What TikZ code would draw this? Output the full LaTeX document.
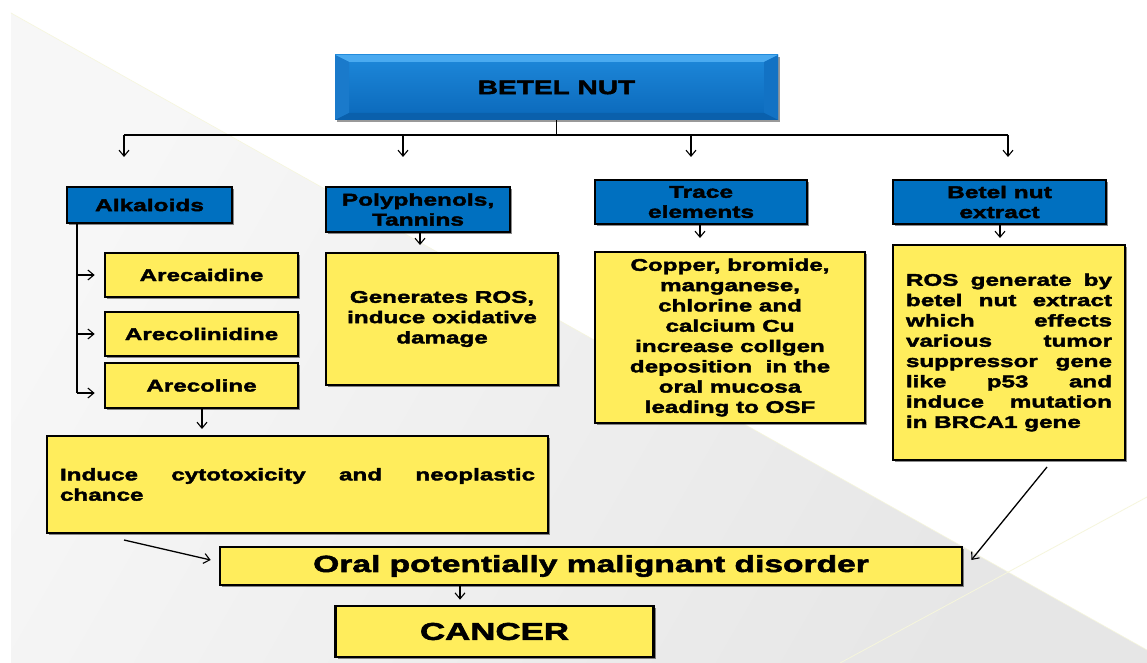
\documentclass[tikz,border=0pt]{standalone}
\usepackage{fontspec}
\newfontfamily\hv{Liberation Sans}[FakeStretch=1.44,FakeBold=2.4]
\usetikzlibrary{arrows.meta,shadows}
\definecolor{ybox}{RGB}{255,237,92}
\definecolor{bbox}{RGB}{0,112,192}
\definecolor{bgray}{RGB}{230,230,230}
\definecolor{bgray2}{RGB}{247,247,247}
\definecolor{faint}{RGB}{246,246,220}
\definecolor{bvtop}{RGB}{74,170,240}
\definecolor{bvside}{RGB}{26,122,203}
\definecolor{bvright}{RGB}{18,114,196}
\definecolor{bvbot}{RGB}{10,96,172}
\definecolor{facetop}{RGB}{30,136,218}
\definecolor{facebot}{RGB}{10,104,186}
\tikzset{
  conn/.style={line width=1.3pt, draw=black},
  arr/.style={conn, -{Straight Barb[length=6pt,width=10pt,line width=1.1pt]}},
  boxbase/.style={draw=black, line width=2.6pt, inner sep=0pt, text=black,
    drop shadow={shadow xshift=2pt,shadow yshift=-2pt,opacity=0.45,fill=black}},
  hdr/.style={boxbase, fill=bbox, align=center, font=\hv\bfseries\fontsize{17}{20}\selectfont},
  ybx/.style={boxbase, fill=ybox, align=center, font=\hv\bfseries\fontsize{16.8}{20.3}\selectfont},
}
\begin{document}
\begin{tikzpicture}[x=1pt,y=-1pt]
\useasboundingbox (0,0) rectangle (1147,663);
% background
\fill[white] (0,0) rectangle (1147,663);
\shade[left color=bgray2, right color=bgray, shading angle=60] (11,13) -- (1147,650) -- (1147,663) -- (11,663) -- cycle;
\draw[faint, line width=0.8pt] (840,663) -- (1147,497);
\draw[faint, line width=0.6pt] (11,13) -- (1147,650);

% BETEL NUT (bevelled)
\node[minimum width=443pt, minimum height=65pt, inner sep=0pt, fill=bbox,
  drop shadow={shadow xshift=2pt,shadow yshift=-2pt,opacity=0.4,fill=black}] (betel) at (556.5,87.5) {};
\shade[top color=facetop, bottom color=facebot] (335,55) rectangle (778,120);
\fill[bvtop] (335,55) -- (778,55) -- (764,62) -- (349,62) -- cycle;
\fill[bvside] (335,55) -- (349,62) -- (349,113) -- (335,120) -- cycle;
\fill[bvright] (778,55) -- (764,62) -- (764,113) -- (778,120) -- cycle;
\fill[bvbot] (335,120) -- (349,113) -- (764,113) -- (778,120) -- cycle;
\node[font=\hv\bfseries\fontsize{19.5}{22}\selectfont] (betellabel) at (556.5,87.5) {BETEL NUT};

% headers
\node[hdr, minimum width=165pt, minimum height=36pt] (alk) at (149.5,205) {Alkaloids};
\node[hdr, minimum width=184pt, minimum height=45pt] (poly) at (418,209.5) {Polyphenols,\\Tannins};
\node[hdr, minimum width=212pt, minimum height=44pt] (trace) at (701,202) {Trace\\elements};
\node[hdr, minimum width=213pt, minimum height=44pt] (extract) at (999.5,202) {Betel nut\\extract};

% alkaloid boxes
\node[ybx, minimum width=193pt, minimum height=44pt] (ar1) at (201.5,275) {Arecaidine};
\node[ybx, minimum width=193pt, minimum height=44pt] (ar2) at (201.5,334) {Arecolinidine};
\node[ybx, minimum width=193pt, minimum height=45pt] (ar3) at (201.5,385.5) {Arecoline};

% content boxes
\node[ybx, minimum width=232pt, minimum height=132pt] (ros) at (442,319) {Generates ROS,\\induce oxidative\\damage};
\node[ybx, minimum width=270pt, minimum height=171pt] (copper) at (730,337.5)
  {Copper, bromide,\\manganese,\\chlorine and\\calcium Cu\\increase collgen\\deposition\ \ in the\\oral mucosa\\leading to OSF};
\node[ybx, minimum width=232pt, minimum height=215pt] (extrbox) at (1009,352.5)
  {\hyphenpenalty=10000\parbox{206pt}{ROS generate by\linebreak betel nut extract\linebreak which effects\linebreak various tumor\linebreak suppressor gene\linebreak like p53 and\linebreak induce mutation\linebreak in BRCA1 gene}};
\node[ybx, minimum width=501pt, minimum height=97pt] (ind) at (297.5,484.5)
  {\hyphenpenalty=10000\parbox{475pt}{Induce cytotoxicity and neoplastic\linebreak chance}};
\node[ybx, minimum width=742pt, minimum height=38pt, font=\hv\bfseries\fontsize{23.3}{26}\selectfont] (opmd) at (591,566) {Oral potentially malignant disorder};
\node[ybx, minimum width=318pt, minimum height=51pt, font=\hv\bfseries\fontsize{24.2}{27}\selectfont] (cancer) at (494.5,631.5) {CANCER};

% connectors from BETEL NUT
\coordinate (hm) at (556.5,135);
\coordinate (h1) at (124,135);
\coordinate (h2) at (403,135);
\coordinate (h3) at (691,135);
\coordinate (h4) at (1008,135);
\coordinate (t1) at (124,157);
\coordinate (t2) at (403,157);
\coordinate (t3) at (691,157);
\coordinate (t4) at (1008,157);
\draw[conn] (betel.south) -- (hm);
\draw[conn] (h1) -- (h4);
\draw[arr] (h1) -- (t1);
\draw[arr] (h2) -- (t2);
\draw[arr] (h3) -- (t3);
\draw[arr] (h4) -- (t4);

% alkaloid trunk
\coordinate (a0) at (77,223);
\coordinate (a1) at (77,275);
\coordinate (a2) at (77,334);
\coordinate (a3) at (77,393);
\draw[conn] (a0) -- (a3);
\draw[arr] (a1) -- ([xshift=-9pt]ar1.west);
\draw[arr] (a2) -- ([xshift=-9pt]ar2.west);
\draw[arr] (a3) -- ([xshift=-9pt,yshift=-7.5pt]ar3.west);

% downward arrows
\coordinate (s3) at (202,408);
\coordinate (d3) at (202,429);
\coordinate (sp) at (420,232);
\coordinate (dp) at (420,245);
\coordinate (st) at (700,224);
\coordinate (dt) at (700,238);
\coordinate (se) at (1000,224);
\coordinate (de) at (1000,238);
\draw[arr] (s3) -- (d3);
\draw[arr] (sp) -- (dp);
\draw[arr] (st) -- (dt);
\draw[arr] (se) -- (de);

% to OPMD
\coordinate (i1) at (124,540);
\coordinate (e1) at (1047,467);
\draw[arr] (i1) -- ([xshift=-8pt,yshift=6pt]opmd.west);
\draw[arr] (e1) -- ([xshift=8pt,yshift=6pt]opmd.east);
\draw[arr] ([xshift=-131pt]opmd.south) -- ([xshift=-34.5pt,yshift=5pt]cancer.north);
\end{tikzpicture}
\end{document}
